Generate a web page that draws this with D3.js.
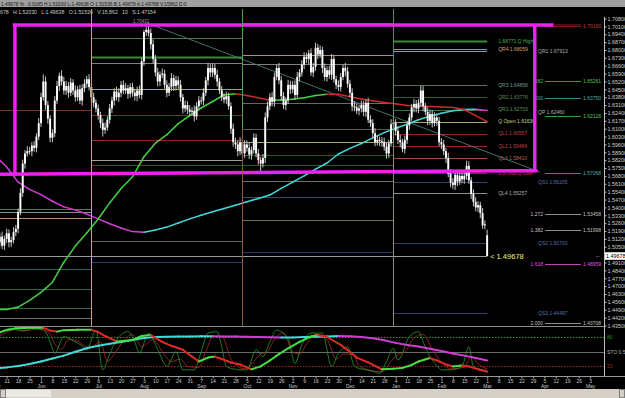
<!DOCTYPE html>
<html>
<head>
<meta charset="utf-8">
<script src="https://cdn.jsdelivr.net/npm/d3@7"></script>
<style>
  body { margin: 0; background: #000; overflow: hidden; }
  svg { display: block; font-family: "Liberation Sans", Arial, sans-serif; }
</style>
</head>
<body>
<div id="chart"></div>
<script>
// ---- data (GBP/USD daily, May 2009 - Mar 1 2010) ----
const firstDay = "2009-05-04";
const lastAxisDay = "2010-05-07";

// daily closes, one row per week (Mon..Fri)
const closes = [
  1.5010, 1.5090, 1.5140, 1.5060, 1.5120,
  1.5170, 1.5090, 1.5110, 1.5180, 1.5210,
  1.5360, 1.5530, 1.5790, 1.5880, 1.5900,
  1.5900, 1.5950, 1.5930, 1.6030, 1.6150,
  1.6380, 1.6520, 1.6310, 1.6190, 1.6020,
  1.6060, 1.6350, 1.6480, 1.6570, 1.6520,
  1.6440, 1.6480, 1.6420, 1.6510, 1.6440,
  1.6380, 1.6450, 1.6350, 1.6460, 1.6500,
  1.6540, 1.6470, 1.6380, 1.6330, 1.6280,
  1.6220, 1.6150, 1.6090, 1.6110, 1.6180,
  1.6280, 1.6350, 1.6430, 1.6380, 1.6420,
  1.6490, 1.6440, 1.6460, 1.6410, 1.6470,
  1.6420, 1.6390, 1.6440, 1.6400, 1.6700,
  1.6960, 1.6980, 1.6950, 1.6850, 1.6720,
  1.6600, 1.6520, 1.6580, 1.6590, 1.6490,
  1.6420, 1.6470, 1.6550, 1.6480, 1.6530,
  1.6490, 1.6380, 1.6280, 1.6310, 1.6270,
  1.6250, 1.6260, 1.6210, 1.6300, 1.6350,
  1.6350, 1.6420, 1.6530, 1.6640, 1.6600,
  1.6640, 1.6580, 1.6520, 1.6440, 1.6380,
  1.6360, 1.6390, 1.6300, 1.6100, 1.5980,
  1.5960, 1.5900, 1.5980, 1.5880, 1.5960,
  1.5930, 1.5870, 1.5910, 1.6020, 1.5880,
  1.5820, 1.5790, 1.5840, 1.6200, 1.6300,
  1.6380, 1.6340, 1.6560, 1.6640, 1.6530,
  1.6390, 1.6310, 1.6350, 1.6490, 1.6450,
  1.6490, 1.6400, 1.6560, 1.6600, 1.6670,
  1.6740, 1.6720, 1.6770, 1.6600, 1.6650,
  1.6820, 1.6760, 1.6800, 1.6640, 1.6560,
  1.6620, 1.6580, 1.6720, 1.6540, 1.6490,
  1.6470, 1.6560, 1.6640, 1.6610, 1.6500,
  1.6420, 1.6300, 1.6290, 1.6260, 1.6280,
  1.6310, 1.6250, 1.6330, 1.6180, 1.6150,
  1.6060, 1.5980, 1.6000, 1.5990, 1.5980,
  1.5940, 1.5880, 1.5970, 1.6140, 1.6150,
  1.6080, 1.6000, 1.5980, 1.5920, 1.6000,
  1.6130, 1.6200, 1.6290, 1.6320, 1.6280,
  1.6330, 1.6440, 1.6300, 1.6250, 1.6170,
  1.6230, 1.6150, 1.6200, 1.6170, 1.5980,
  1.5960, 1.5900, 1.5840, 1.5700, 1.5620,
  1.5600, 1.5690, 1.5630, 1.5680, 1.5650,
  1.5680, 1.5770, 1.5640, 1.5520, 1.5450,
  1.5400, 1.5420, 1.5350, 1.5240, 1.5250,
  1.49678
];
const firstOpen = 1.4985;
const lastOpen = 1.51536;

// wick lengths above / below the body, in pips
const wickUp = [
  30,40,35,45,30, 40,35,30,45,35, 30,40,35,30,45, 35,30,40,30,45,
  40,63,45,35,30, 35,40,45,30,50, 40,45,35,40,30, 45,30,40,35,40,
  30,45,35,40,30, 35,30,40,45,30, 40,35,30,45,40, 35,40,45,30,35,
  40,30,35,45,30, 20,30,63,40,45, 35,40,30,45,35, 40,35,45,30,40,
  35,45,30,40,35, 40,30,45,35,40, 35,40,30,45,35, 40,35,45,30,40,
  35,40,30,35,45, 40,35,45,30,40, 35,45,30,40,35, 40,30,35,45,40,
  35,45,40,30,45, 40,35,30,45,35, 35,40,45,30,40, 40,35,30,45,35,
  45,35,40,30,40, 35,40,45,35,30, 40,35,30,45,40, 35,40,45,30,35,
  40,35,30,45,40, 35,45,40,30,35, 40,35,30,45,35, 35,40,45,30,40,
  40,35,30,45,35, 35,45,40,30,40, 40,35,45,30,35, 35,40,30,45,40,
  40,35,45,30,35, 35,45,40,30,40, 40,35,30,45,35, 49
];
const wickDn = [
  45,35,40,30,40, 35,45,40,30,35, 40,30,35,45,30, 30,45,35,40,30,
  35,30,40,45,40, 40,35,30,45,35, 35,40,45,30,40, 40,35,30,45,35,
  35,30,45,40,35, 40,45,60,35,30, 35,40,45,30,40, 40,35,30,45,35,
  35,40,45,30,40, 40,35,30,45,40, 35,45,40,30,35, 40,30,35,45,40,
  35,40,45,30,40, 40,35,45,30,35, 35,40,30,45,40, 40,35,45,30,35,
  35,40,30,45,40, 40,45,35,30,40, 35,40,45,30,35, 40,83,35,45,40,
  35,40,45,30,35, 40,35,45,30,40, 35,45,30,40,35, 40,35,45,30,40,
  35,40,30,45,35, 40,35,45,30,40, 35,40,30,45,35, 40,45,35,30,40,
  35,40,45,30,35, 40,35,30,45,40, 35,45,40,30,35, 40,35,45,30,40,
  35,40,30,45,35, 40,35,45,30,40, 35,40,30,45,35, 40,35,45,30,40,
  35,45,40,30,35, 40,35,30,45,40, 35,40,45,30,35, 0.4
];

// moving averages, one value per week (Monday)
const maSlow = [
  1.5860, 1.5760, 1.5625, 1.5560, 1.5514, 1.5455, 1.5405, 1.5378, 1.5340, 1.5298,
  1.5255, 1.5217, 1.5185, 1.5180, 1.5200, 1.5225, 1.5262, 1.5298, 1.5330, 1.5362,
  1.5390, 1.5420, 1.5450, 1.5480, 1.5510, 1.5570, 1.5625, 1.5680, 1.5740, 1.5795,
  1.5875, 1.5925, 1.5968, 1.6018, 1.6065, 1.6104, 1.6139, 1.6180, 1.6210, 1.6238,
  1.6259, 1.6270, 1.6272, 1.6262
];
const maMid = [
  1.4490, 1.4493, 1.4514, 1.4574, 1.4645, 1.4735, 1.4913, 1.5056, 1.5172, 1.5297,
  1.5440, 1.5569, 1.5672, 1.5851, 1.5971, 1.6047, 1.6145, 1.6217, 1.6284, 1.6342,
  1.6400, 1.6410, 1.6395, 1.6375, 1.6353, 1.6355, 1.6362, 1.6375, 1.6395, 1.6407,
  1.6406, 1.6384, 1.6364, 1.6348, 1.6333, 1.6321, 1.6306, 1.6301, 1.6297, 1.6293,
  1.6288, 1.6270, 1.6217, 1.6163
];

// quarterly pivot levels
const quarterStarts = ["2009-05-04", "2009-07-01", "2009-10-01", "2010-01-01"];
const pivotQ2 = [1.6269, 1.5386, 1.5362, 1.5306, 1.4852, 1.4674, 1.4505, 1.4416];
const pivotQ3 = [1.6907, 1.6738, 1.6684, 1.6456, 1.6225, 1.6002, 1.5824, 1.5780, 1.5101, 1.4915];
const pivotQ4 = [1.7040, 1.6753, 1.6675, 1.6329, 1.6097, 1.5979, 1.5869, 1.5780, 1.5632, 1.5490, 1.5291, 1.5004];
const pivotQ1 = [1.68771, 1.68059, 1.6787, 1.64858, 1.63776, 1.62703, 1.61630, 1.60557,
                 1.59484, 1.58410, 1.57068, 1.5626, 1.5526, 1.5084, 1.4461];
const pivotQ1Labels = ["1.68771 Q High", "QR4 1.68059", "", "QR3 1.64858", "QR2 1.63776",
                       "QR1 1.62703", "Q Open 1.61630", "QL1 1.60557", "QL2 1.59484",
                       "QL3 1.58410", "1.57068 Q Low", "", "QL4 1.55257", "", ""];

// fibonacci projection on the right
const fibRatios = ["", ".382", ".500", "", "", "1.272", "1.382", "1.618", "2.000"];
const fibValues = [1.70160, 1.65261, 1.63750, 1.62128, 1.57068, 1.53458, 1.51998, 1.48959, 1.43708];
const sideNotes = [["QR1 1.67913", 1.6790], ["QP 1.62460", 1.6250], ["QS1 1.56205", 1.5626],
                   ["QS2 1.50700", 1.5084], ["QS3 1.44497", 1.4461]];

const priceTicks = [
  1.708, 1.701, 1.694, 1.687, 1.680, 1.673, 1.666, 1.659, 1.652, 1.645,
  1.638, 1.631, 1.624, 1.617, 1.610, 1.603, 1.596, 1.589, 1.582, 1.575,
  1.568, 1.561, 1.554, 1.547, 1.540, 1.533, 1.526, 1.519, 1.512, 1.505,
  1.491, 1.484, 1.477, 1.470, 1.463, 1.456, 1.449, 1.442, 1.435
];
const monthNames = ["May","Jun","Jul","Aug","Sep","Oct","Nov","Dec","Jan","Feb","Mar","Apr","May"];

// stochastic: [trading day index, value]
const stochK = [[0,80],[2,88],[7,98],[12,92],[16,98],[21,96],[24,70],[26,47],[30,81],[33,75],[35,70],
  [38,62],[40,54],[44,94],[47,13],[50,45],[53,74],[58,91],[61,70],[63,47],[67,88],[71,55],[75,20],
  [79,50],[82,13],[87,13],[90,50],[93,88],[97,91],[99,60],[101,20],[104,15],[107,13],[110,13],
  [114,54],[117,40],[120,70],[123,94],[128,77],[131,26],[134,64],[138,88],[143,88],[147,20],
  [150,47],[154,60],[157,20],[162,13],[165,10],[168,6],[171,30],[174,57],[176,33],[181,81],
  [185,91],[187,70],[190,40],[193,22],[195,13],[199,13],[204,20],[207,60],[209,20],[213,13],[215,12]];
const stochD = [[0,75],[3,85],[9,95],[14,93],[18,96],[23,90],[27,60],[29,55],[32,75],[36,72],[40,60],
  [42,60],[46,70],[49,30],[52,45],[56,72],[60,85],[64,60],[69,75],[73,50],[77,30],[81,35],[84,20],
  [89,18],[92,50],[95,80],[99,82],[103,35],[106,20],[109,15],[112,25],[116,45],[119,50],[122,75],
  [126,88],[130,50],[133,45],[136,65],[140,85],[145,75],[149,35],[152,45],[156,45],[159,22],
  [164,12],[169,9],[173,30],[176,45],[179,50],[183,78],[187,85],[191,55],[195,28],[199,15],
  [205,18],[208,40],[211,25],[215,15]];
const stochSlow = [[0,86],[4,93],[9,98],[16,99],[21,99],[24,93],[27,91],[30,94],[36,95],[42,95],
  [45,90],[48,82],[53,71],[56,72],[60,74],[64,82],[68,84],[73,70],[77,62],[82,54],[86,40],[89,30],
  [93,38],[96,40],[99,35],[103,28],[107,24],[112,14],[116,20],[120,32],[124,45],[128,57],[133,70],
  [138,81],[141,84],[145,80],[151,64],[155,50],[158,38],[163,28],[169,14],[174,15],[178,17],
  [182,23],[185,30],[190,37],[193,32],[197,24],[200,20],[204,22],[207,20],[211,14],[215,9]];
// weekly values of the long smoothing line in the lower panel
const stochTrend = [16, 18, 21, 25, 30, 36, 42, 50, 57, 62, 66, 70, 74, 78, 80, 80.5, 81, 81.2, 81.3, 81.3,
  81.2, 80.8, 80.3, 79.8, 79.3, 79.0, 79.2, 79.8, 80.5, 81.2, 81.8, 81.6, 80.2, 77.5, 73.5, 68, 63.5,
  60.5, 56, 51.5, 46.5, 42, 37, 32];

const headerTop = "1.49678 % : 0.0185 H:1.52030 L:1.49638 O:1.51536 B:1.49678 A:1.49788 V:15862 D:0";
const headerInfo = "678   H:1.52030   L:1.49638   O:1.51536   V:15,862   10   S:1.47154";

// ---- layout ----
const W = 625, H = 398;
const plot = { left: 0, right: 604, top: 17, bottom: 326 };
const lower = { top: 327, bottom: 376 };

const parse = d3.utcParse("%Y-%m-%d");
const days = d3.utcDay.range(parse(firstDay), d3.utcDay.offset(parse(lastAxisDay), 1))
  .filter(d => d.getUTCDay() !== 0 && d.getUTCDay() !== 6);
const idxOf = s => d3.bisectLeft(days, parse(s));

const lastIdx = closes.length - 1;
const x = d3.scaleLinear().domain([0, lastIdx]).range([-4.76, 487.16]);
const y = d3.scaleLinear().domain([1.435, 1.708]).range([325.5, 18.5]);
const ys = d3.scaleLinear().domain([0, 100]).range([376.2, 327.2]);

const bars = closes.map((c, i) => {
  const o = i === 0 ? firstOpen : (i === lastIdx ? lastOpen : closes[i - 1]);
  return { i, o, c, h: Math.max(o, c) + wickUp[i] / 10000, l: Math.min(o, c) - wickDn[i] / 10000 };
});

const svg = d3.select("#chart").append("svg").attr("width", W).attr("height", H);
svg.append("rect").attr("width", W).attr("height", H).attr("fill", "#000");

// header rows
svg.append("rect").attr("width", W).attr("height", 7).attr("fill", "#a0a0a0");
svg.append("text").attr("x", 1).attr("y", 5.6).attr("font-size", 4.8).attr("fill", "#1a1a1a").text(headerTop);
svg.append("text").attr("x", 0).attr("y", 14).attr("font-size", 5.2).attr("fill", "#c8c8c8")
  .attr("xml:space", "preserve").text(headerInfo);

svg.append("defs").append("clipPath").attr("id", "clipMain")
  .append("rect").attr("x", plot.left).attr("y", plot.top)
  .attr("width", plot.right - plot.left).attr("height", plot.bottom - plot.top);
const g = svg.append("g").attr("clip-path", "url(#clipMain)");

// ---- quarterly pivots ----
const pivots = [pivotQ2, pivotQ3, pivotQ4, pivotQ1];
const pivotColors = [
  ["#7a3a28", "#3c8a3c", "#8a8a8a", "#c08a60", "#2e6060", "#3a6a3a", "#3a6a3a", "#707070"],
  ["#4a7a4a", "#3a8a3a", "#808080", "#a8a860", "#8b2a2a", "#8b2a2a", "#a0a0a0", "#8b2a2a", "#6a6a40", "#303a70"],
  ["#5a7a5a", "#c08a60", "#808080", "#607060", "#506050", "#a8a870", "#8b2a2a", "#8b2a2a", "#707070", "#3a4a6a", "#707050", "#2a3a70"],
  ["#3a8a3a", "#c08a60", "#c08a60", "#4a7070", "#3a5a3a", "#406a40", "#a8a870", "#8b2a2a", "#8b2a2a", "#a05040", "#8b2a2a", "#304070", "#909090", "#304070", "#304070"]
];
const qStartIdx = quarterStarts.map(idxOf);
const qEndIdx = [qStartIdx[1], qStartIdx[2], qStartIdx[3], lastIdx];

// quarter boundary verticals
const boundaryColors = [["#d0a070", "#d0a070"], ["#5a9a5a", "#8a5a48"], ["#5a8a5a", "#8a8a70"]];
[1, 2, 3].forEach((q, k) => {
  const xb = Math.round(x(qStartIdx[q])) + 0.5;
  const all = pivots[q - 1].concat(pivots[q]);
  const bot = y(d3.min(all));
  const mid = y(pivots[q][Math.floor(pivots[q].length / 3)]);
  svg.append("line").attr("x1", xb).attr("x2", xb).attr("y1", 9).attr("y2", mid)
    .attr("stroke", boundaryColors[k][0]).attr("stroke-width", 1);
  svg.append("line").attr("x1", xb).attr("x2", xb).attr("y1", mid).attr("y2", Math.max(bot, 326))
    .attr("stroke", boundaryColors[k][1]).attr("stroke-width", 1);
});

pivots.forEach((levels, q) => {
  levels.forEach((v, k) => {
    g.append("line")
      .attr("x1", x(qStartIdx[q])).attr("x2", x(qEndIdx[q]))
      .attr("y1", Math.round(y(v)) + 0.5).attr("y2", Math.round(y(v)) + 0.5)
      .attr("stroke", pivotColors[q][k])
      .attr("stroke-width", (q === 1 && k === 1) || (q === 3 && k === 0) ? 2 : 1);
  });
});
const labelColors = ["#4ab04a", "#d8a070", "#d8a070", "#6a9a9a", "#5a8a5a", "#5a9a5a", "#d0d080",
  "#c04040", "#c04040", "#c06050", "#c04040", "#5060a0", "#b0b0b0", "#5060a0", "#5060a0"];
pivotQ1.forEach((v, k) => {
  if (!pivotQ1Labels[k]) return;
  g.append("text").attr("x", x(lastIdx) + 11).attr("y", y(v) + 1.8)
    .attr("font-size", 5).attr("fill", labelColors[k]).text(pivotQ1Labels[k]);
});

// current price line
g.append("line").attr("x1", 0).attr("x2", x(lastIdx))
  .attr("y1", Math.round(y(closes[lastIdx])) + 0.5).attr("y2", Math.round(y(closes[lastIdx])) + 0.5)
  .attr("stroke", "#9a9a9a").attr("stroke-width", 1);

// diagonal trend line
g.append("line").attr("x1", x(68.5)).attr("y1", y(1.7022)).attr("x2", x(238)).attr("y2", y(1.5715))
  .attr("stroke", "#4a7a7a").attr("stroke-width", 0.9);

// fibonacci levels on the right
const fibColors = ["#7a2020", "#3a9a3a", "#3a8a8a", "#3a9a3a", "#3a8a8a", "#909090", "#909090", "#c040c0", "#909090"];
const fibTextColors = ["#c04040", "#50c050", "#50b0b0", "#50c050", "#50b0b0", "#c0c0c0", "#c0c0c0", "#e050e0", "#c0c0c0"];
fibValues.forEach((v, k) => {
  const yy = Math.round(y(v)) + 0.5;
  g.append("line").attr("x1", 545).attr("x2", 581).attr("y1", yy).attr("y2", yy).attr("stroke", fibColors[k]);
  g.append("text").attr("x", 583).attr("y", yy + 1.8).attr("font-size", 5).attr("fill", fibTextColors[k])
    .text(d3.format(".5f")(v));
  if (fibRatios[k]) g.append("text").attr("x", 543).attr("y", yy + 1.8).attr("text-anchor", "end")
    .attr("font-size", 5).attr("fill", fibTextColors[k]).text(fibRatios[k]);
});
sideNotes.forEach(([t, v]) => {
  g.append("text").attr("x", 538).attr("y", y(v) + 1.8).attr("font-size", 5)
    .attr("fill", t.startsWith("QS") ? "#5a70b0" : "#b0b0b0").text(t);
});

// ---- moving averages ----
function slopeSegments(parent, values, xOf, yOf, upColor, downColor, width) {
  for (let k = 1; k < values.length; k++) {
    parent.append("line")
      .attr("x1", xOf(k - 1)).attr("y1", yOf(values[k - 1]))
      .attr("x2", xOf(k)).attr("y2", yOf(values[k]))
      .attr("stroke", values[k] >= values[k - 1] ? upColor : downColor)
      .attr("stroke-width", width).attr("stroke-linecap", "round");
  }
}
const weekX = k => x(Math.min(k * 5, lastIdx));
slopeSegments(g, maSlow, weekX, y, "#40dada", "#d23cd2", 1.5);
slopeSegments(g, maMid, weekX, y, "#44d044", "#d02a2a", 1.5);

// ---- candles ----
const cw = 1.9;
g.selectAll(".wick").data(bars).enter().append("line")
  .attr("x1", d => x(d.i)).attr("x2", d => x(d.i))
  .attr("y1", d => y(d.h)).attr("y2", d => y(d.l))
  .attr("stroke", "#c4c4c4").attr("stroke-width", 1);
g.selectAll(".body").data(bars).enter().append("rect")
  .attr("x", d => x(d.i) - cw / 2)
  .attr("y", d => y(Math.max(d.o, d.c)))
  .attr("width", cw)
  .attr("height", d => Math.max(0.8, Math.abs(y(d.o) - y(d.c))))
  .attr("fill", "#ffffff");

// magenta annotation box
const boxPaths = [
  [[8.6, 1.5700], [8.6, 1.7023]],
  [[7.6, 1.7023], [244, 1.7023]],
  [[235.8, 1.7023], [235.8, 1.5727]],
  [[0, 1.5694], [237, 1.5727]]
];
boxPaths.forEach(p => {
  g.append("line").attr("x1", x(p[0][0])).attr("y1", y(p[0][1]))
    .attr("x2", x(p[1][0])).attr("y2", y(p[1][1]))
    .attr("stroke", "#f020f0").attr("stroke-width", 3.5);
});
g.append("line").attr("x1", x(244)).attr("x2", 581).attr("y1", y(1.7023)).attr("y2", y(1.7023))
  .attr("stroke", "#7a2020");

g.append("text").attr("x", 133).attr("y", 23).attr("font-size", 4.5).attr("fill", "#9a9a9a").text("1.70431");
g.append("text").attr("x", x(lastIdx) + 3).attr("y", y(closes[lastIdx]) + 2.6)
  .attr("font-size", 7.5).attr("fill", "#f2f27a").text("< 1.49678");

// ---- right price axis ----
const axisG = svg.append("g").attr("transform", `translate(${plot.right + 0.5},0)`)
  .call(d3.axisRight(y).tickValues(priceTicks).tickFormat(d3.format(".5f")).tickSize(2).tickPadding(1));
axisG.select(".domain").remove();
axisG.selectAll("line").attr("stroke", "#c0c0c0");
axisG.selectAll("text").attr("fill", "#d0d0d0").attr("font-size", 5.4).attr("font-family", "Liberation Sans, Arial, sans-serif");
svg.append("line").attr("x1", plot.right + 0.5).attr("x2", plot.right + 0.5).attr("y1", 17).attr("y2", lower.bottom)
  .attr("stroke", "#c0c0c0");
const cy = y(closes[lastIdx]);
svg.append("rect").attr("x", plot.right + 1).attr("y", cy - 3.8).attr("width", 21).attr("height", 7.6).attr("fill", "#ffffff");
svg.append("text").attr("x", plot.right + 2).attr("y", cy + 2).attr("font-size", 5.4).attr("fill", "#000").text("1.49678");
svg.append("text").attr("x", plot.right - 9).attr("y", cy + 2).attr("font-size", 6).attr("fill", "#c0c0c0").text("\u2190");

// ---- lower stochastic panel ----
svg.append("line").attr("x1", 0).attr("x2", plot.right).attr("y1", 326.5).attr("y2", 326.5).attr("stroke", "#8a8a8a");
svg.append("line").attr("x1", 0).attr("x2", W).attr("y1", lower.bottom + 0.5).attr("y2", lower.bottom + 0.5).attr("stroke", "#9a9a9a");
const lvl = [[80, "#2a9a2a", "1.5,1.5", "80"], [50, "#6a6a6a", null, "STO 0.5"], [20, "#9a2a2a", "1.5,1.5", "20"]];
lvl.forEach(([v, c, dash, t]) => {
  svg.append("line").attr("x1", 0).attr("x2", plot.right).attr("y1", Math.round(ys(v)) + 0.5).attr("y2", Math.round(ys(v)) + 0.5)
    .attr("stroke", c).attr("stroke-dasharray", dash);
  svg.append("text").attr("x", plot.right + 3).attr("y", ys(v) + 2).attr("font-size", 5)
    .attr("fill", v === 50 ? "#b0b0b0" : c).text(t);
});
svg.append("defs").append("clipPath").attr("id", "clipLow")
  .append("rect").attr("x", 0).attr("y", lower.top).attr("width", plot.right).attr("height", lower.bottom - lower.top);
const gl = svg.append("g").attr("clip-path", "url(#clipLow)");
const lineIdx = d3.line().x(d => x(d[0])).y(d => ys(d[1])).curve(d3.curveMonotoneX);
gl.append("path").datum(stochD).attr("d", lineIdx).attr("fill", "none").attr("stroke", "#b02a2a").attr("stroke-width", 0.8);
gl.append("path").datum(stochK).attr("d", lineIdx).attr("fill", "none").attr("stroke", "#2a9a2a").attr("stroke-width", 0.8);
slopeSegments(gl, stochTrend, weekX, ys, "#40dada", "#d23cd2", 2);
for (let k = 1; k < stochSlow.length; k++) {
  const a = stochSlow[k - 1], b = stochSlow[k];
  gl.append("line").attr("x1", x(a[0])).attr("y1", ys(a[1])).attr("x2", x(b[0])).attr("y2", ys(b[1]))
    .attr("stroke", b[1] >= a[1] ? "#44e044" : "#e02a2a").attr("stroke-width", 2).attr("stroke-linecap", "round");
}

// ---- date axis ----
const mondays = d3.range(days.length).filter(i => days[i].getUTCDay() === 1);
const dayAxis = svg.append("g").attr("transform", `translate(0,${lower.bottom + 1})`)
  .call(d3.axisBottom(x).tickValues(mondays).tickFormat(i => days[i].getUTCDate()).tickSize(1.5).tickPadding(1));
dayAxis.select(".domain").remove();
dayAxis.selectAll("line").attr("stroke", "#b0b0b0");
dayAxis.selectAll("text").attr("fill", "#c8c8c8").attr("font-size", 5).attr("font-family", "Liberation Sans, Arial, sans-serif");
const firstMondays = mondays.filter(i => days[i].getUTCDate() <= 7);
const monthAxis = svg.append("g").attr("transform", `translate(0,${lower.bottom + 7.5})`)
  .call(d3.axisBottom(x).tickValues(firstMondays).tickFormat((i, k) => monthNames[k]).tickSize(0).tickPadding(1));
monthAxis.select(".domain").remove();
monthAxis.selectAll("text").attr("fill", "#c8c8c8").attr("font-size", 5).attr("font-family", "Liberation Sans, Arial, sans-serif");

// scroll bar
svg.append("rect").attr("x", 0).attr("y", 389).attr("width", W).attr("height", 9).attr("fill", "#d4d0c8");
svg.append("rect").attr("x", 0.5).attr("y", 389.5).attr("width", 5).attr("height", 8).attr("fill", "#d4d0c8").attr("stroke", "#808080");
svg.append("rect").attr("x", 619.5).attr("y", 389.5).attr("width", 5).attr("height", 8).attr("fill", "#d4d0c8").attr("stroke", "#808080");
svg.append("rect").attr("x", 6).attr("y", 390).attr("width", 45).attr("height", 7).attr("fill", "#ece9e2");
</script>
</body>
</html>
